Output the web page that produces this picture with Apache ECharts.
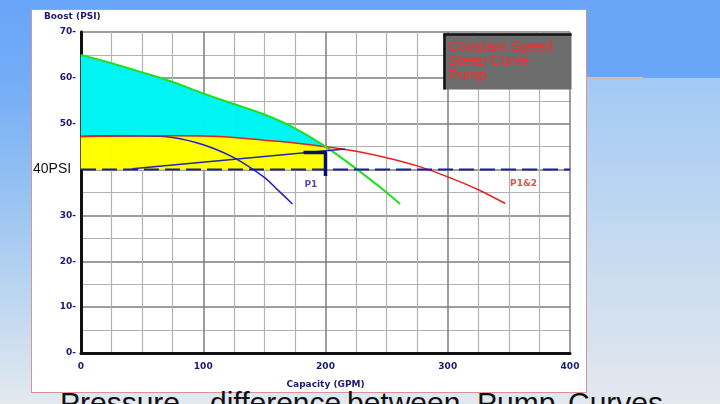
<!DOCTYPE html>
<html>
<head>
<meta charset="utf-8">
<script src="https://cdn.jsdelivr.net/npm/echarts@6/dist/echarts.min.js"></script>
<style>
html,body{margin:0;padding:0;width:720px;height:404px;overflow:hidden;}
#bg{position:absolute;left:0;top:0;width:720px;height:404px;
background:linear-gradient(180deg,#68a4f8 0%,#74acf6 20%,#92c0f2 45%,#b8d4f0 70%,#e4e9f0 100%);}
#bgr{position:absolute;left:587px;top:0;width:133px;height:78px;background:#6aa6f8;}
#bgr2{position:absolute;left:587px;top:78px;width:133px;height:326px;background:linear-gradient(180deg,#a2c9f4 0%,#c4daf0 50%,#e4e8ee 100%);}
#tan{position:absolute;left:587px;top:77px;width:56px;height:2px;background:#c9c2b2;}
#panel{position:absolute;left:31px;top:9px;width:554px;height:382px;background:#fff;border:1.5px solid #d99393;}
#main{position:absolute;left:0;top:0;width:720px;height:404px;}
.w{position:absolute;top:388px;font:30px "Liberation Sans",Arial,sans-serif;color:#111;white-space:nowrap;line-height:30px;}
</style>
</head>
<body>
<div id="bg"></div><div id="bgr"></div><div id="bgr2"></div><div id="tan"></div>
<div id="panel"></div>
<div class="w" style="left:60px">Pressure</div>
<div class="w" style="left:210px">difference</div>
<div class="w" style="left:347px">between</div>
<div class="w" style="left:477px">Pump</div>
<div class="w" style="left:568px">Curves</div>
<div id="main"></div>
<script>
// ---- data (GPM, PSI) ----
var xTicks = [0, 100, 200, 300, 400];
var yTicks = [0, 10, 20, 30, 40, 50, 60, 70];
var fillX      = [0, 25, 50, 75, 100, 125, 150, 175, 200];
var greenFillY = [65, 63.2, 61.2, 59.1, 56.6, 54.3, 52.0, 49.0, 45.0];
var redFillY   = [47.2, 47.3, 47.4, 47.4, 47.3, 47.0, 46.4, 45.8, 45.0];
var greenX = [0, 25, 50, 75, 100, 125, 150, 175, 200, 225, 250, 261];
var greenY = [65, 63.2, 61.2, 59.1, 56.6, 54.3, 52.0, 49.0, 45.0, 40.2, 35.0, 32.5];
var redX = [0, 25, 50, 75, 100, 125, 150, 175, 200, 225, 250, 275, 300, 325, 347];
var redY = [47.2, 47.3, 47.4, 47.4, 47.3, 47.0, 46.4, 45.8, 45.0, 44.0, 42.6, 40.8, 38.4, 35.6, 32.6];
var p1X = [0, 25, 50, 75, 100, 125, 150, 160, 173];
var p1Y = [47.2, 47.3, 47.3, 47.0, 45.4, 42.6, 38.3, 35.8, 32.5];
var targetPsi = 40;
var arrowX = [42, 216];
var arrowY = [40.2, 44.5];
var bracketX = [182, 200, 200];
var bracketY = [43.7, 43.7, 38.6];
var labelP1 = [188, 36.7];
var labelP12 = [362, 36.9];

var xMin = xTicks[0], xMax = xTicks[xTicks.length - 1];
var yMin = yTicks[0], yMax = yTicks[yTicks.length - 1];

function pairs(xs, ys) { return xs.map(function (x, i) { return [x, ys[i]]; }); }

// band segments: [x0, low0, high0, x1, low1, high1]
function bands(lowArr, highArr) {
  var out = [];
  for (var i = 0; i < fillX.length - 1; i++) {
    out.push([fillX[i], lowArr[i], highArr[i], fillX[i + 1], lowArr[i + 1], highArr[i + 1]]);
  }
  return out;
}
var flat = fillX.map(function () { return targetPsi; });

function bandSeries(data, color) {
  return {
    type: 'custom', z: 3, silent: true, data: data,
    encode: {x: [0, 3], y: [1, 2, 4, 5]},
    renderItem: function (params, api) {
      var a = api.coord([api.value(0), api.value(1)]);
      var b = api.coord([api.value(0), api.value(2)]);
      var c = api.coord([api.value(3), api.value(5)]);
      var d = api.coord([api.value(3), api.value(4)]);
      return {type: 'polygon', shape: {points: [a, b, c, d]},
              style: {fill: color, stroke: color, lineWidth: 0.6, blend: 'multiply'}};
    }
  };
}

var navy = '#1a1a72';
var tickFont = {color: navy, fontWeight: 'bold', fontSize: 9, fontFamily: 'DejaVu Sans'};
var chart = echarts.init(document.getElementById('main'), null, {renderer: 'canvas'});
var sm = 0.3;
chart.setOption({
  backgroundColor: 'transparent',
  animation: false,
  grid: {left: 81, right: 150, top: 32, bottom: 51},
  xAxis: [{
    type: 'value', min: xMin, max: xMax, interval: 100,
    axisLine: {show: true, onZero: false, lineStyle: {color: '#111', width: 3}},
    axisTick: {show: false},
    axisLabel: Object.assign({margin: 9}, tickFont),
    splitLine: {show: true, lineStyle: {color: '#7c7c7c', width: 1.5}},
    minorTick: {show: false, splitNumber: 4},
    minorSplitLine: {show: true, lineStyle: {color: '#b2b2b2', width: 1.2}},
    name: 'Capacity (GPM)', nameLocation: 'middle', nameGap: 27,
    nameTextStyle: {color: navy, fontWeight: 'bold', fontSize: 9, fontFamily: 'DejaVu Sans'}
  }],
  yAxis: [{
    type: 'value', min: yMin, max: yMax, interval: 10,
    axisLine: {show: true, onZero: false, lineStyle: {color: '#8a8a8a', width: 3}},
    axisTick: {show: false},
    axisLabel: Object.assign({margin: 5, formatter: function (v) { return v === targetPsi ? '' : v + '-'; }}, tickFont),
    splitLine: {show: true, lineStyle: {color: '#7c7c7c', width: 1.5}},
    minorTick: {show: false, splitNumber: 2},
    minorSplitLine: {show: true, lineStyle: {color: '#b2b2b2', width: 1.2}}
  }, {
    type: 'value', position: 'right', min: yMin, max: yMax,
    axisLine: {show: true, lineStyle: {color: '#111', width: 3}},
    axisTick: {show: false}, axisLabel: {show: false}, splitLine: {show: false}
  }],
  series: [
    bandSeries(bands(flat, redFillY), '#ffff00'),
    bandSeries(bands(redFillY, greenFillY), '#00f4f4'),
    {type: 'line', z: 5, symbol: 'none', smooth: sm, lineStyle: {color: '#1f1fd0', width: 1.5},
     data: pairs(p1X, p1Y)},
    {type: 'line', z: 5, symbol: 'none', smooth: sm, lineStyle: {color: '#e82020', width: 1.5},
     data: pairs(redX, redY)},
    {type: 'line', z: 5, symbol: 'none', smooth: sm, lineStyle: {color: '#22dd22', width: 2},
     data: pairs(greenX, greenY)},
    {type: 'line', z: 5, symbol: 'none', lineStyle: {color: '#1c1c9c', width: 2, type: [15, 6]},
     data: [[xMin, targetPsi], [xMax, targetPsi]]},
    {type: 'line', z: 5, symbol: 'none', lineStyle: {color: '#2525a8', width: 1.5},
     data: pairs(arrowX, arrowY)},
    {type: 'line', z: 6, symbol: 'none', lineStyle: {color: '#0c0c6c', width: 3.5},
     data: pairs(bracketX, bracketY)},
    {type: 'scatter', z: 6, symbolSize: 0, silent: true,
     label: {show: true, position: 'inside', formatter: 'P1', color: '#2020b0', fontWeight: 'bold', fontSize: 9, fontFamily: 'DejaVu Sans'},
     data: [labelP1]},
    {type: 'scatter', z: 6, symbolSize: 0, silent: true,
     label: {show: true, position: 'inside', formatter: 'P1&2', color: '#e02020', fontWeight: 'bold', fontSize: 9, fontFamily: 'DejaVu Sans'},
     data: [labelP12]}
  ],
  graphic: [
    {type: 'text', z: 100, left: 44, top: 12,
     style: {text: 'Boost (PSI)', fill: navy, font: 'bold 9px "DejaVu Sans"'}},
    {type: 'text', z: 100, left: 33, top: 162,
     style: {text: '40PSI', fill: '#111', font: '14px "Liberation Sans"'}},
    {type: 'group', z: 100, left: 441, top: 31, children: [
      {type: 'rect', z: 100, shape: {x: 0, y: 0, width: 128, height: 56}, style: {fill: '#6c6c6c'}},
      {type: 'line', z: 101, shape: {x1: 0, y1: 1, x2: 128, y2: 1}, style: {stroke: '#111', lineWidth: 2.5}},
      {type: 'line', z: 101, shape: {x1: 1, y1: 0, x2: 1, y2: 56}, style: {stroke: '#111', lineWidth: 2.5}},
      {type: 'text', z: 102, x: 5, y: 6, style: {text: 'Constant Speed\nSteep Curve\nPump', fill: '#ff2a2a', font: '14.5px "Liberation Sans"', lineHeight: 14.5}}
    ]}
  ]
});
</script>
</body>
</html>
